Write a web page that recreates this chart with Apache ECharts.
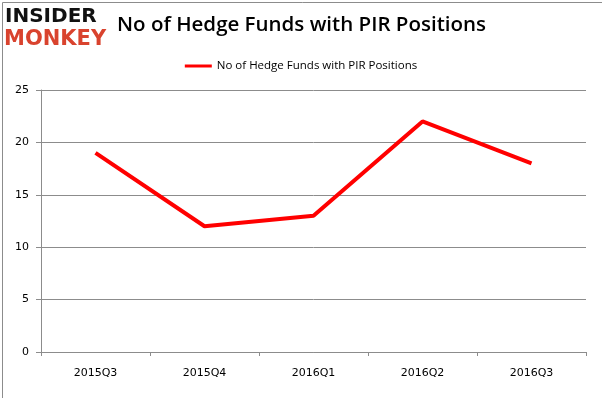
<!DOCTYPE html>
<html>
<head>
<meta charset="utf-8">
<script src="https://cdn.jsdelivr.net/npm/echarts@6/dist/echarts.min.js"></script>
<style>
  html, body { margin: 0; padding: 0; background: #fff; }
  #chart { width: 602px; height: 398px; }
</style>
</head>
<body>
<div id="chart"></div>
<script>
var quarters = ["2015Q3", "2015Q4", "2016Q1", "2016Q2", "2016Q3"];
var fundCounts = [19, 12, 13, 22, 18];
var seriesName = "No of Hedge Funds with PIR Positions";

var chart = echarts.init(document.getElementById("chart"));
chart.setOption({
  backgroundColor: "#fff",
  animation: false,
  title: {
    text: seriesName,
    left: 112,
    top: 10,
    textStyle: {
      fontFamily: "Open Sans",
      fontWeight: 600,
      fontSize: 20.5,
      color: "#000",
    },
  },
  legend: {
    top: 55,
    left: "center",
    icon: "rect",
    itemWidth: 27,
    itemHeight: 3,
    itemGap: 4,
    data: [seriesName],
    textStyle: {
      fontFamily: "Open Sans",
      fontSize: 11.5,
      color: "#000",
    },
  },
  graphic: [
    {
      type: "rect",
      left: 0,
      top: 0,
      shape: { width: 601, height: 397 },
      style: { fill: "none", stroke: "#8c8c8c", lineWidth: 1 },
      silent: true,
    },
    {
      type: "text",
      left: 5,
      top: 7,
      style: {
        text: "INSIDER",
        fontFamily: "DejaVu Sans",
        fontWeight: 900,
        fontSize: 20,
        fill: "#111",
      },
    },
    {
      type: "text",
      left: 4,
      top: 29,
      style: {
        text: "MONKEY",
        fontFamily: "DejaVu Sans",
        fontWeight: 900,
        fontSize: 21,
        fill: "#d9432e",
      },
    },
  ],
  grid: {
    left: 41,
    right: 16,
    top: 90,
    bottom: 46,
  },
  xAxis: {
    type: "category",
    data: quarters,
    boundaryGap: true,
    axisLine: { lineStyle: { color: "#8c8c8c", width: 1 } },
    axisTick: { show: true, length: 4, interval: 0, lineStyle: { color: "#8c8c8c" } },
    axisLabel: {
      margin: 16,
      fontFamily: "DejaVu Sans",
      fontSize: 11,
      color: "#000",
    },
  },
  yAxis: {
    type: "value",
    min: 0,
    max: 25,
    interval: 5,
    axisLine: { show: true, lineStyle: { color: "#8c8c8c", width: 1 } },
    axisTick: { show: true, length: 5, lineStyle: { color: "#8c8c8c" } },
    axisLabel: {
      margin: 12,
      fontFamily: "DejaVu Sans",
      fontSize: 11,
      color: "#000",
    },
    splitLine: { lineStyle: { color: "#8c8c8c", width: 1 } },
  },
  series: [
    {
      name: seriesName,
      type: "line",
      data: fundCounts,
      showSymbol: false,
      symbol: "none",
      lineStyle: { color: "#ff0000", width: 4 },
      itemStyle: { color: "#ff0000" },
    },
  ],
});
</script>
</body>
</html>
